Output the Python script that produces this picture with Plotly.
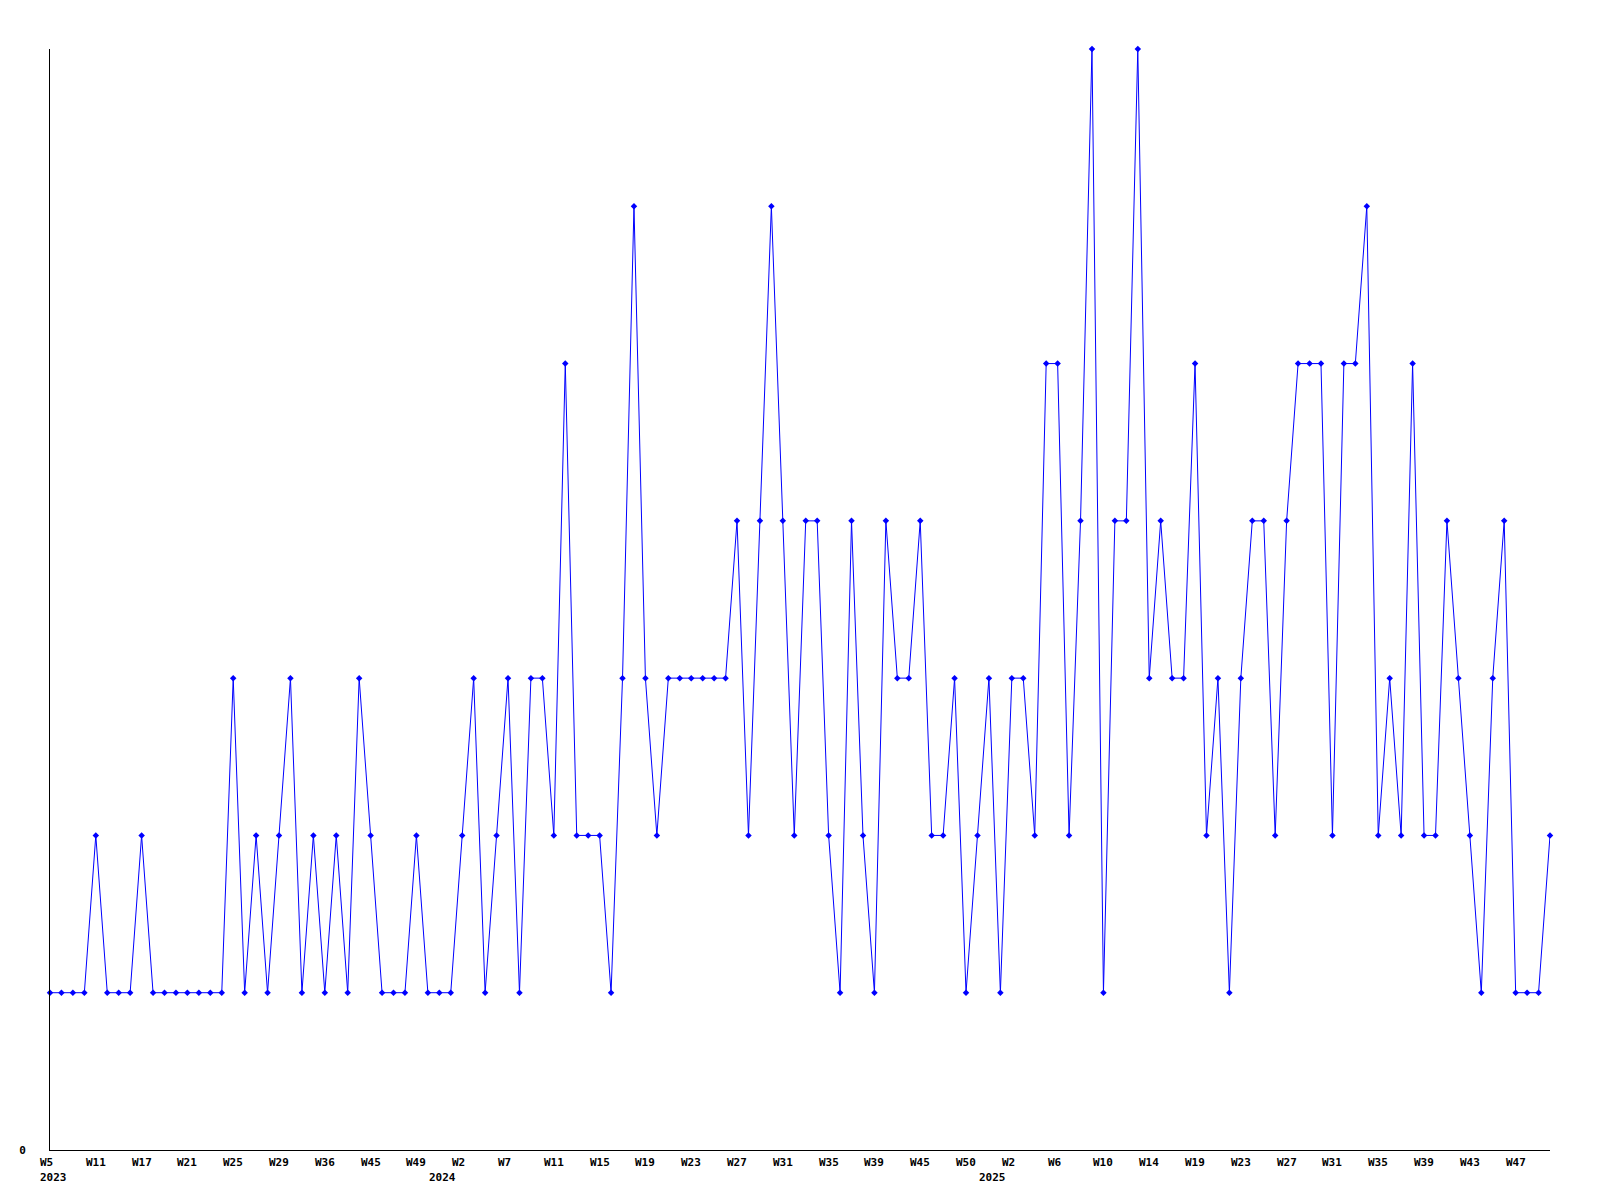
import plotly.graph_objects as go

# weekly counts, one value per point
values = [
    1, 1, 1, 1, 2, 1, 1, 1, 2, 1, 1, 1, 1, 1, 1, 1, 3, 1, 2, 1,
    2, 3, 1, 2, 1, 2, 1, 3, 2, 1, 1, 1, 2, 1, 1, 1, 2, 3, 1, 2,
    3, 1, 3, 3, 2, 5, 2, 2, 2, 1, 3, 6, 3, 2, 3, 3, 3, 3, 3, 3,
    4, 2, 4, 6, 4, 2, 4, 4, 2, 1, 4, 2, 1, 4, 3, 3, 4, 2, 2, 3,
    1, 2, 3, 1, 3, 3, 2, 5, 5, 2, 4, 7, 1, 4, 4, 7, 3, 4, 3, 3,
    5, 2, 3, 1, 3, 4, 4, 2, 4, 5, 5, 5, 2, 5, 5, 6, 2, 3, 2, 5,
    2, 2, 4, 3, 2, 1, 3, 4, 1, 1, 1, 2,
]

# a week label every 4th point
week_labels = [
    "W5", "W11", "W17", "W21", "W25", "W29", "W36", "W45", "W49",
    "W2", "W7", "W11", "W15", "W19", "W23", "W27", "W31", "W35", "W39", "W45", "W50",
    "W2", "W6", "W10", "W14", "W19", "W23", "W27", "W31", "W35", "W39", "W43", "W47",
]
label_step = 4

# first point of each year
year_starts = [0, 34, 82]
year_labels = ["2023", "2024", "2025"]

x = list(range(len(values)))
font = dict(family="DejaVu Sans Mono", size=11, color="black")

fig = go.Figure()
fig.add_trace(go.Scatter(
    x=x, y=values, mode="lines+markers",
    line=dict(color="#0000ff", width=1),
    marker=dict(symbol="diamond", size=5, color="#0000ff"),
    cliponaxis=False, hoverinfo="x+y",
))

# week labels, left-aligned like the original
for k, lab in enumerate(week_labels):
    fig.add_annotation(x=x[k * label_step], y=0, xref="x", yref="paper",
                       text="<b>" + lab + "</b>", showarrow=False,
                       xanchor="left", yanchor="top", xshift=-12, yshift=-4,
                       font=font)
# year labels below
for pos, lab in zip(year_starts, year_labels):
    fig.add_annotation(x=x[pos], y=0, xref="x", yref="paper",
                       text="<b>" + lab + "</b>", showarrow=False,
                       xanchor="left", yanchor="top", xshift=-12, yshift=-19,
                       font=font)

fig.update_layout(
    width=1600, height=1200,
    margin=dict(l=50, r=50, t=49, b=50),
    paper_bgcolor="white", plot_bgcolor="white",
    showlegend=False,
    xaxis=dict(range=[0, len(values) - 1], showgrid=False, zeroline=False,
               showline=True, linecolor="black", linewidth=1,
               showticklabels=False, ticks=""),
    yaxis=dict(range=[0, 7], showgrid=False, zeroline=False,
               showline=True, linecolor="black", linewidth=1,
               tickvals=[0], ticktext=["<b>0</b>"], ticks="",
               ticklabelstandoff=21, tickfont=font),
)

# drop the browser's default body margin so the figure sits at 0,0
fig.write_html("out.html", config={"displayModeBar": False},
               post_script="document.body.style.margin='0';")
